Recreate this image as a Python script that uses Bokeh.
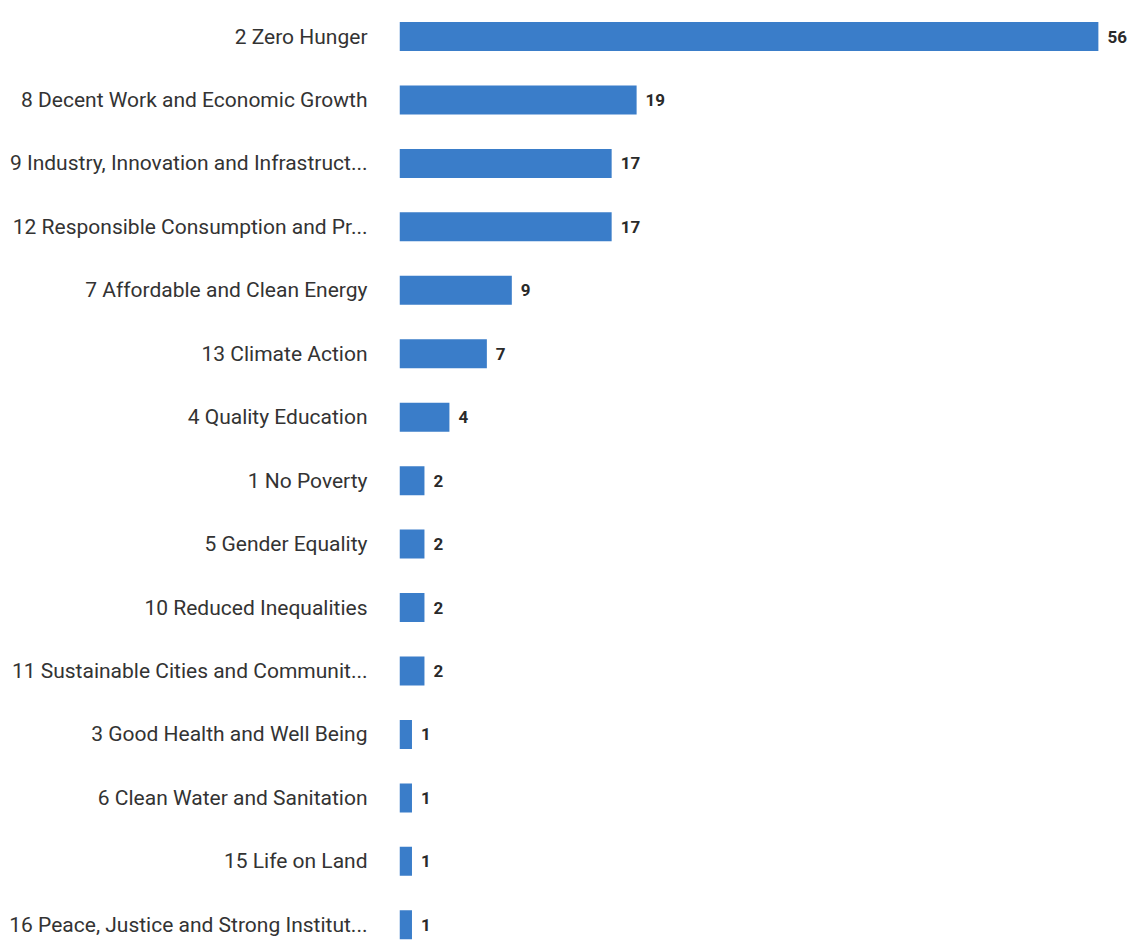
from bokeh.plotting import figure
from bokeh.models import Range1d, ColumnDataSource, FixedTicker
from bokeh.embed import file_html
from bokeh.resources import INLINE
from bokeh.core.properties import value

categories = [
    "2 Zero Hunger",
    "8 Decent Work and Economic Growth",
    "9 Industry, Innovation and Infrastruct...",
    "12 Responsible Consumption and Pr...",
    "7 Affordable and Clean Energy",
    "13 Climate Action",
    "4 Quality Education",
    "1 No Poverty",
    "5 Gender Equality",
    "10 Reduced Inequalities",
    "11 Sustainable Cities and Communit...",
    "3 Good Health and Well Being",
    "6 Clean Water and Sanitation",
    "15 Life on Land",
    "16 Peace, Justice and Strong Institut...",
]
counts = [56, 19, 17, 17, 9, 7, 4, 2, 2, 2, 2, 1, 1, 1, 1]

pos = list(range(len(categories)))
src = ColumnDataSource(dict(y=pos, v=counts, lab=[str(c) for c in counts]))

W, H = 1129, 940
left = 399
px_per_unit = 12.48
row_px = 63.45
first_center = 36

p = figure(width=W, height=H, output_backend="svg", toolbar_location=None,
           min_border_left=left, min_border_right=0, min_border_top=0, min_border_bottom=0,
           x_range=Range1d(0, (W - left) / px_per_unit),
           y_range=Range1d((H - first_center) / row_px, -first_center / row_px))

p.hbar(y="y", right="v", left=0, height=29 / row_px, source=src,
       fill_color="#3a7dc9", line_color=None)
p.text(x="v", y="y", text="lab", source=src, x_offset=9,
       text_align="left", text_baseline="middle",
       text_font=value("Roboto"), text_font_style="bold",
       text_font_size="17px", text_color="#2a2a2a")

p.xaxis.visible = False
p.grid.visible = False
p.outline_line_color = None
ya = p.yaxis[0]
ya.ticker = FixedTicker(ticks=pos)
ya.major_label_overrides = {i: c for i, c in enumerate(categories)}
ya.axis_line_color = None
ya.major_tick_line_color = None
ya.minor_tick_line_color = None
ya.major_label_standoff = 26
ya.major_label_text_font = "Roboto"
ya.major_label_text_font_size = "21px"
ya.major_label_text_color = "#333333"

open("out.html", "w").write(file_html(p, INLINE))
